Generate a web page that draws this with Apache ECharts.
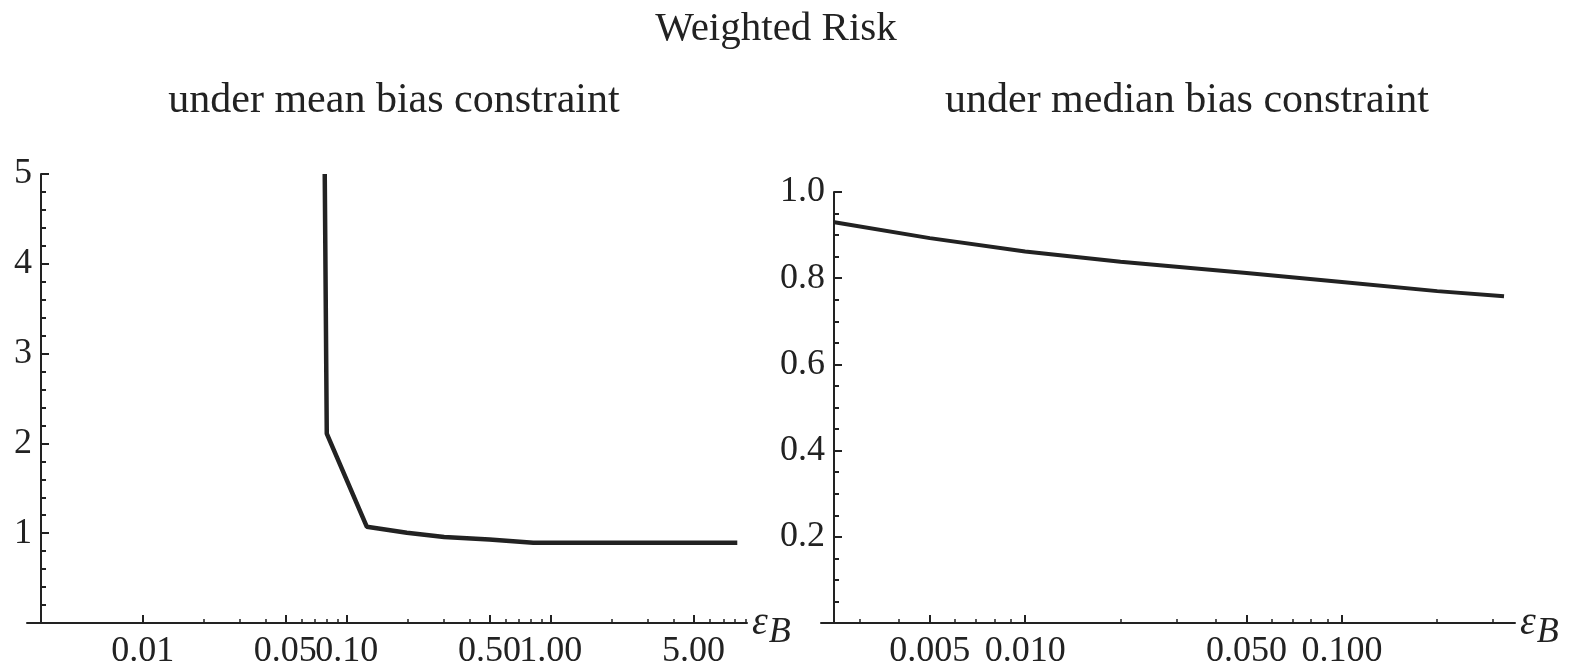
<!DOCTYPE html>
<html>
<head>
<meta charset="utf-8">
<script src="https://cdn.jsdelivr.net/npm/echarts@6/dist/echarts.min.js"></script>
<style>
html,body{margin:0;padding:0;background:#fff;}
#chart{width:1581px;height:666px;}
</style>
</head>
<body>
<div id="chart"></div>
<script>
// ---- Data ----
const mainTitle = 'Weighted Risk';
const panelTitles = ['under mean bias constraint', 'under median bias constraint'];

// Left panel: mean bias constraint
const meanX = [0.078, 0.0798, 0.1253, 0.197, 0.30, 0.50, 0.82, 2.0, 8.2];
const meanY = [5.0, 2.11, 1.072, 1.006, 0.958, 0.93, 0.894, 0.894, 0.894];
const meanMajorTicks = [0.01, 0.05, 0.1, 0.5, 1, 5];
const meanMinorTicks = [0.02, 0.03, 0.04, 0.06, 0.07, 0.08, 0.09, 0.2, 0.3, 0.4, 0.6, 0.7, 0.8, 0.9, 2, 3, 4, 6, 7, 8, 9];
const meanXRange = [0.00271, 9.15];
const meanYRange = [0, 5];

// Right panel: median bias constraint
const medX = [0.0025, 0.005, 0.01, 0.02, 0.05, 0.1, 0.2, 0.325];
const medY = [0.930, 0.893, 0.862, 0.838, 0.812, 0.791, 0.770, 0.758];
const medMajorTicks = [0.005, 0.01, 0.05, 0.1];
const medMinorTicks = [0.003, 0.004, 0.006, 0.007, 0.008, 0.009, 0.02, 0.03, 0.04, 0.06, 0.07, 0.08, 0.09, 0.2, 0.3];
const medXRange = [0.002267, 0.352];
const medYRange = [0, 1];

// ---- Chart ----
const FONT = '"Liberation Serif", "DejaVu Serif", serif';
const INK = '#222';
const chart = echarts.init(document.getElementById('chart'), null, {renderer: 'canvas'});

const epsName = {
  name: '{e|ε}{b|B}',
  nameLocation: 'end',
  nameGap: 5,
  nameTextStyle: {
    rich: {
      e: {fontFamily: FONT, fontSize: 40, fontStyle: 'italic', color: INK, verticalAlign: 'middle'},
      b: {fontFamily: FONT, fontSize: 36, fontStyle: 'italic', color: INK, verticalAlign: 'middle', padding: [20, 0, 0, 1]}
    }
  }
};

function majorX(gridIndex, range, ticks, decimals) {
  return Object.assign({
    type: 'log', logBase: 10, gridIndex, min: range[0], max: range[1],
    position: 'bottom',
    axisLine: {show: true, onZero: false, lineStyle: {color: INK, width: 2}},
    axisTick: {show: true, inside: true, length: 8, customValues: ticks, lineStyle: {color: INK, width: 2}},
    minorTick: {show: false},
    splitLine: {show: false},
    axisLabel: {show: true, customValues: ticks, margin: 11, fontFamily: FONT, fontSize: 36, color: INK,
      formatter: v => Number(v).toFixed(decimals)}
  }, epsName);
}
function minorX(gridIndex, range, ticks) {
  return {
    type: 'log', logBase: 10, gridIndex, min: range[0], max: range[1],
    position: 'bottom',
    axisLine: {show: false, onZero: false},
    axisTick: {show: true, inside: true, length: 4, customValues: ticks, lineStyle: {color: INK, width: 1.5}},
    splitLine: {show: false},
    axisLabel: {show: false}
  };
}
function yAx(gridIndex, range, interval, split, offset, fmt) {
  return {
    type: 'value', gridIndex, min: range[0], max: range[1], interval,
    offset,
    axisLine: {show: true, onZero: false, lineStyle: {color: INK, width: 2}},
    axisTick: {show: true, inside: true, length: 8, lineStyle: {color: INK, width: 2}},
    minorTick: {show: true, splitNumber: split, length: 5, lineStyle: {color: INK, width: 2}},
    splitLine: {show: false},
    axisLabel: {margin: 9, fontFamily: FONT, fontSize: 36, color: INK, formatter: fmt}
  };
}

const option = {
  animation: false,
  backgroundColor: '#fff',
  title: [
    {text: mainTitle, left: 771, top: 4, textAlign: 'center',
     textStyle: {fontFamily: FONT, fontSize: 41, fontWeight: 'normal', color: INK}},
    {text: panelTitles[0], left: 389, top: 75, textAlign: 'center',
     textStyle: {fontFamily: FONT, fontSize: 42, fontWeight: 'normal', color: INK}},
    {text: panelTitles[1], left: 1182, top: 75, textAlign: 'center',
     textStyle: {fontFamily: FONT, fontSize: 42, fontWeight: 'normal', color: INK}}
  ],
  grid: [
    {left: 27, right: 834, top: 174, bottom: 43, outerBoundsMode: 'none', containLabel: false},
    {left: 821, right: 66, top: 192, bottom: 43, outerBoundsMode: 'none', containLabel: false}
  ],
  xAxis: [
    majorX(0, meanXRange, meanMajorTicks, 2),
    minorX(0, meanXRange, meanMinorTicks),
    majorX(1, medXRange, medMajorTicks, 3),
    minorX(1, medXRange, medMinorTicks)
  ],
  yAxis: [
    yAx(0, meanYRange, 1, 5, -14, v => v === 0 ? '' : String(v)),
    yAx(1, medYRange, 0.2, 4, -13, v => v === 0 ? '' : v.toFixed(1))
  ],
  series: [
    {type: 'line', xAxisIndex: 0, yAxisIndex: 0, showSymbol: false, symbol: 'none',
     lineStyle: {color: INK, width: 4.5}, data: meanX.map((x, i) => [x, meanY[i]])},
    {type: 'line', xAxisIndex: 2, yAxisIndex: 1, showSymbol: false, symbol: 'none',
     lineStyle: {color: INK, width: 4}, data: medX.map((x, i) => [x, medY[i]])}
  ]
};
chart.setOption(option);
</script>
</body>
</html>
